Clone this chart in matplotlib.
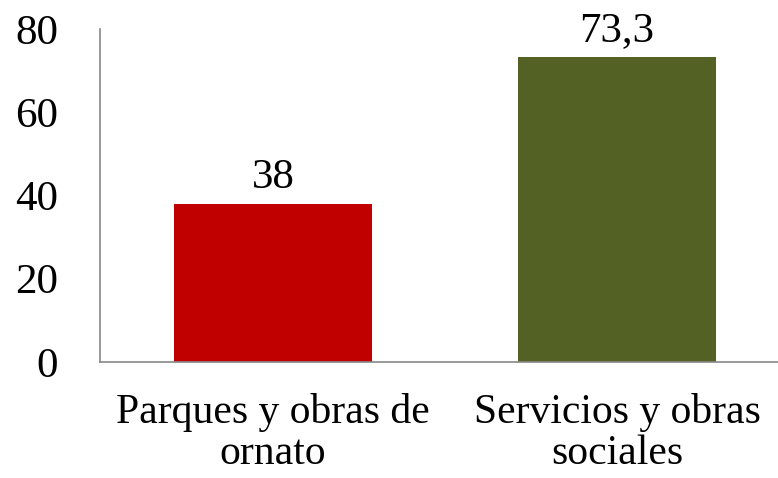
import matplotlib.pyplot as plt

# datos
categorias = ['Parques y obras de\nornato', 'Servicios y obras\nsociales']
valores = [38, 73.3]
etiquetas = ['38', '73,3']
colores = ['#C00000', '#536125']

plt.rcParams['font.family'] = ['Liberation Serif', 'DejaVu Serif']

fig = plt.figure(figsize=(7.78, 4.78), dpi=100)
ax = fig.add_axes([0.1285, 0.2427, 0.8715, 0.6966])

x = range(len(categorias))
barras = ax.bar(x, valores, width=0.573, color=colores)

for b, txt in zip(barras, etiquetas):
    ax.annotate(txt, (b.get_x() + b.get_width() / 2, b.get_height()),
                xytext=(0, 5), textcoords='offset points',
                ha='center', va='bottom', fontsize=31)

ax.set_xlim(-0.503, 1.468)
ax.set_ylim(0, 80)
ax.set_yticks([0, 20, 40, 60, 80])
ax.set_xticks(list(x))
ax.set_xticklabels(categorias, fontsize=30, linespacing=1.1)
ax.tick_params(axis='y', length=0, pad=30, labelsize=31)
ax.tick_params(axis='x', length=0, pad=22)

for lado in ['top', 'right']:
    ax.spines[lado].set_visible(False)
for lado in ['left', 'bottom']:
    ax.spines[lado].set_color('#888888')
    ax.spines[lado].set_linewidth(1.2)

fig.savefig('out.png', dpi=100)
